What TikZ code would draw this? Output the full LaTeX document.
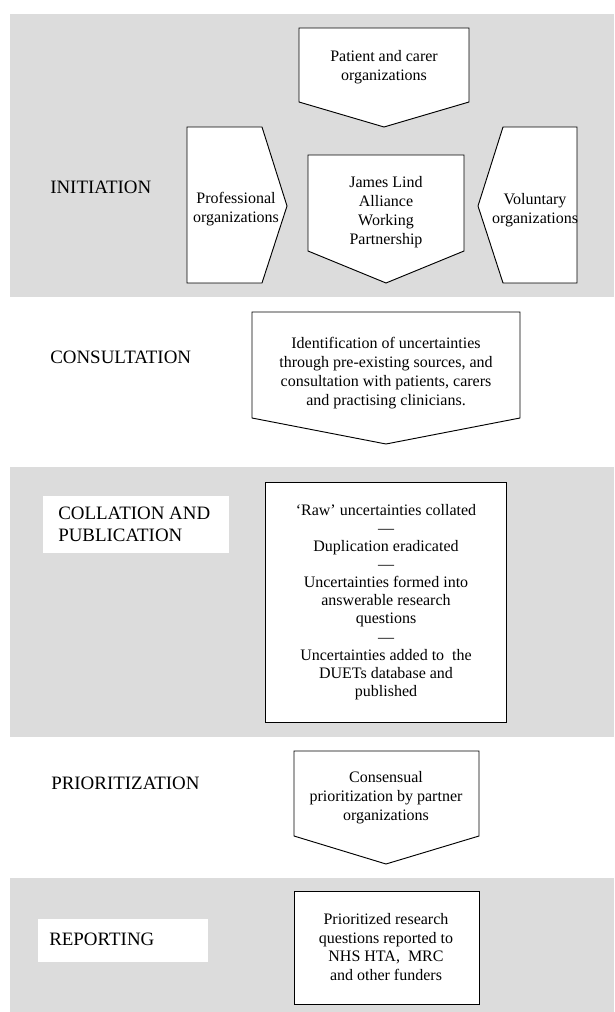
\documentclass[tikz,border=0pt]{standalone}
\usepackage{fontspec}
\setmainfont{Liberation Serif}
\definecolor{bandgray}{RGB}{220,220,220}
\begin{document}
\begin{tikzpicture}[x=0.75pt,y=-0.75pt,
  band/.style={fill=bandgray,draw=none},
  shapebox/.style={draw=black,fill=white,line width=0.7pt,line join=miter},
  boxtext/.style={align=center,inner sep=0pt,font=\fontsize{12}{14.2}\selectfont},
  stagelabel/.style={anchor=west,inner sep=0pt,align=left,font=\fontsize{14.2}{16.5}\selectfont},
  labelbg/.style={fill=white,draw=none}]
\useasboundingbox (0,0) rectangle (614,1012);
% bands
\fill[band] (10,14) rectangle (614,297);
\fill[band] (10,467) rectangle (614,737);
\fill[band] (10,878) rectangle (614,1012);
% INITIATION shapes
\draw[shapebox] (299,28) -- (469,28) -- (469,102) -- (384,127) -- (299,102) -- cycle;
\draw[shapebox] (187,127) -- (262,127) -- (287,206) -- (262,283) -- (187,283) -- cycle;
\draw[shapebox] (308,155) -- (464,155) -- (464,251) -- (386,283) -- (308,251) -- cycle;
\draw[shapebox] (503,127) -- (577,127) -- (577,283) -- (503,283) -- (478,206) -- cycle;
\node[boxtext] (patient) at (384,67) {Patient and carer\\organizations};
\node[boxtext] (prof) at (236,209) {Professional\\organizations};
\node[boxtext] (jla) at (386,212) {James Lind\\Alliance\\Working\\Partnership};
\node[boxtext] (vol) at (535,210) {Voluntary\\organizations};
\node[stagelabel] (init) at (50,187) {INITIATION};
% CONSULTATION
\draw[shapebox] (252,312) -- (520,312) -- (520,418) -- (386,444) -- (252,418) -- cycle;
\node[boxtext] (consult) at (386,373) {Identification of uncertainties\\through pre-existing sources, and\\consultation with patients, carers\\and practising clinicians.};
\node[stagelabel] (consl) at (50,357) {CONSULTATION};
% COLLATION
\fill[labelbg] (43,496) rectangle (229,553);
\node[stagelabel] (coll) at (58,524) {COLLATION AND\\PUBLICATION};
\draw[shapebox] (265,482) rectangle (506,722);
\node[boxtext,font=\fontsize{12}{13.6}\selectfont] (colltext) at (386,602) {‘Raw’ uncertainties collated\\—\\Duplication eradicated\\—\\Uncertainties formed into\\answerable research\\questions\\—\\Uncertainties added to\ \ the\\DUETs database and\\published};
% PRIORITIZATION
\draw[shapebox] (294,751) -- (479,751) -- (479,836) -- (386,864) -- (294,836) -- cycle;
\node[boxtext] (prio) at (386,798) {Consensual\\prioritization by partner\\organizations};
\node[stagelabel] (priol) at (51,783) {PRIORITIZATION};
% REPORTING
\fill[labelbg] (38,919) rectangle (208,962);
\node[stagelabel] (rep) at (49,939) {REPORTING};
\draw[shapebox] (294,891) rectangle (479,1004);
\node[boxtext] (reptext) at (386,947) {Prioritized research\\questions reported to\\NHS HTA,\ \ MRC\\and other funders};
\end{tikzpicture}
\end{document}
